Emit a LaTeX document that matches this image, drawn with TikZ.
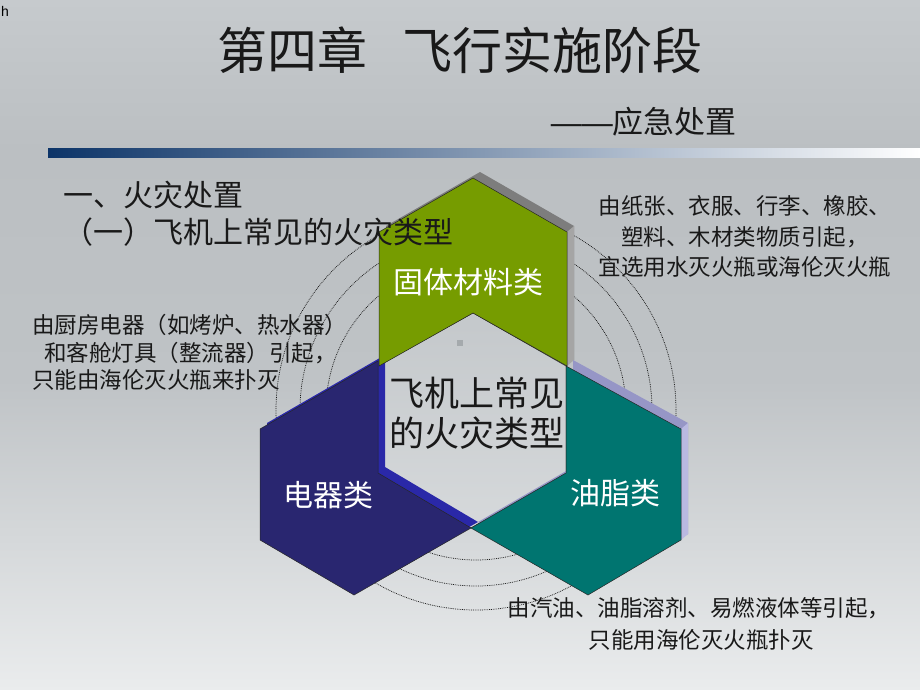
\documentclass[tikz,border=0pt]{standalone}
\usepackage{fontspec}
\setmainfont{Noto Sans CJK SC}
\newfontfamily\latinfont{Liberation Sans}
\definecolor{bgtop}{RGB}{198,202,205}
\definecolor{bgmid}{RGB}{187,191,194}
\definecolor{bgmid2}{RGB}{191,195,198}
\definecolor{bgbot}{RGB}{234,236,237}
\definecolor{navyL}{RGB}{12,52,104}
\definecolor{barmid}{RGB}{185,200,215}
\definecolor{hgreen}{RGB}{118,156,0}
\definecolor{hgreenside}{RGB}{125,125,125}
\definecolor{hgreenside2}{RGB}{165,165,165}
\definecolor{hnavy}{RGB}{41,38,112}
\definecolor{hnavyside}{RGB}{42,40,168}
\definecolor{hteal}{RGB}{0,117,112}
\definecolor{htealside}{RGB}{150,150,198}
\definecolor{htealside2}{RGB}{185,185,225}
\definecolor{ctop}{RGB}{196,200,203}
\definecolor{cbot}{RGB}{214,217,219}
\definecolor{dotsq}{RGB}{165,170,173}
\begin{document}
\begin{tikzpicture}[x=1pt,y=-1pt,
  face/.style={draw=black!85,line width=0.5pt,line join=miter},
  ring/.style={draw=black!90,line width=0.75pt,dash pattern=on 0.8pt off 1.0pt},
  txt/.style={text=black!90,inner sep=0pt},
  wtxt/.style={text=white,inner sep=0pt,font=\fontsize{30}{36}\selectfont},
  note/.style={text=black!90,inner sep=0pt,font=\fontsize{22.5}{28}\selectfont}]
\useasboundingbox (0,0) rectangle (920,690);
% background
\fill[top color=bgtop,bottom color=bgmid] (0,0) rectangle (920,150);
\fill[top color=bgmid,bottom color=bgmid2] (0,150) rectangle (920,380);
\fill[top color=bgmid2,bottom color=bgbot] (0,380) rectangle (920,690);
% title bar
\shade[left color=navyL,middle color=barmid,right color=white] (48,148) rectangle (920,157);
% rings
\draw[ring] (476,410) circle (150pt);
\draw[ring] (476,410) circle (176pt);
\draw[ring] (476,410) circle (200pt);
% centre hexagon
\shade[top color=ctop,bottom color=cbot,draw=black!85,line width=0.5pt]
  (473,313) -- (566,366) -- (566,473) -- (471,528) -- (378,473) -- (378,366) -- cycle;
\fill[dotsq] (457,340) rectangle (463,346);
% blue (electrical)
\fill[hnavyside,shift={(7,-6)}] (378,361) -- (260,429) -- (260,540) -- (354,595) -- (471,528) -- (378,473) -- cycle;
\fill[hnavy,face] (378,361) -- (260,429) -- (260,540) -- (354,595) -- (471,528) -- (378,473) -- cycle;
% green (solid)
\fill[hgreenside,shift={(7,-6)}] (379,232) -- (473,178) -- (567,232) -- (567,366) -- (473,313) -- (379,366) -- cycle;
\fill[hgreenside2] (567,232) -- (574,226) -- (574,360) -- (567,366) -- cycle;
\fill[hgreen,face] (379,232) -- (473,178) -- (567,232) -- (567,366) -- (473,313) -- (379,366) -- cycle;
% teal (oil)
\fill[htealside,shift={(7,-6)}] (566,366) -- (681,429) -- (681,540) -- (588,595) -- (471,528) -- (566,473) -- cycle;
\fill[htealside2] (681,429) -- (688,423) -- (688,534) -- (681,540) -- cycle;
\fill[hteal,face] (566,366) -- (681,429) -- (681,540) -- (588,595) -- (471,528) -- (566,473) -- cycle;
% labels in shapes
\node[wtxt] (lsolid) at (468,282) {固体材料类};
\node[wtxt] (lelec) at (328,495) {电器类};
\node[wtxt] (loil) at (615,493) {油脂类};
\node[txt,font=\fontsize{35}{40}\selectfont] (c1) at (477,393) {飞机上常见};
\node[txt,font=\fontsize{35}{40}\selectfont] (c2) at (477,433) {的火灾类型};
% title texts
\node[anchor=west,inner sep=0pt,font=\latinfont\fontsize{14}{16}\selectfont] (hmark) at (1,11) {h};
\node[txt,font=\fontsize{50}{56}\selectfont] (title) at (460,50) {第四章\hspace{0.7em}飞行实施阶段};
\node[txt,anchor=east,font=\fontsize{31}{36}\selectfont] (sub) at (737,122) {{\latinfont ——}应急处置};
\node[txt,anchor=west,font=\fontsize{30}{36}\selectfont] (h1) at (63,195) {一、火灾处置};
\node[txt,anchor=west,font=\fontsize{30}{36}\selectfont] (h2) at (63,232) {（一）飞机上常见的火灾类型};
% notes
\node[note] (r1) at (745,206) {由纸张、衣服、行李、橡胶、};
\node[note] (r2) at (745,237) {塑料、木材类物质引起，};
\node[note] (r3) at (745,267) {宜选用水灭火瓶或海伦灭火瓶};
\node[note,anchor=west] (l1) at (32,325) {由厨房电器（如烤炉、热水器）};
\node[note,anchor=west] (l2) at (44,353) {和客舱灯具（整流器）引起，};
\node[note,anchor=west] (l3) at (32,380) {只能由海伦灭火瓶来扑灭};
\node[note] (b1) at (699,608) {由汽油、油脂溶剂、易燃液体等引起，};
\node[note] (b2) at (701,640) {只能用海伦灭火瓶扑灭};
\end{tikzpicture}
\end{document}
